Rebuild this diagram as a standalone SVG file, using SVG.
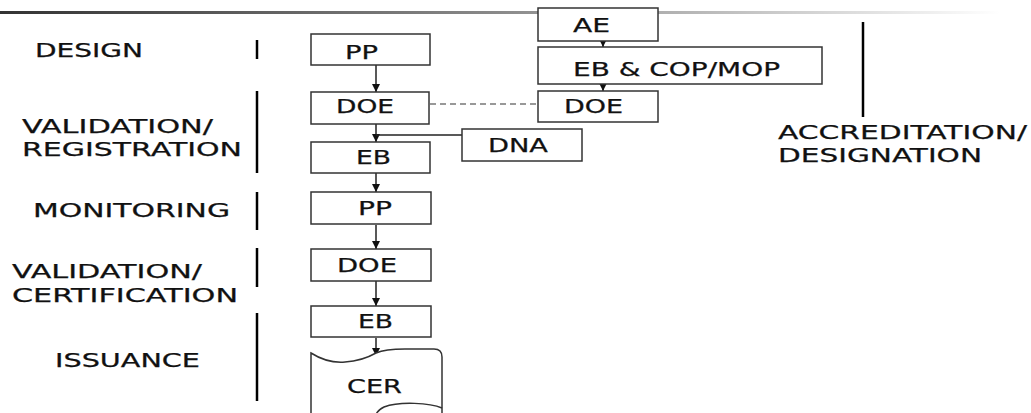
<svg xmlns="http://www.w3.org/2000/svg" width="1031" height="413" viewBox="0 0 1031 413">
  <defs>
    <linearGradient id="rule" x1="0" y1="0" x2="1" y2="0">
      <stop offset="0" stop-color="#333"/>
      <stop offset="0.5" stop-color="#8a8a8a"/>
      <stop offset="1" stop-color="#ffffff"/>
    </linearGradient>
    <marker id="arrow" viewBox="0 0 10 10" refX="10" refY="5" markerWidth="8" markerHeight="8" markerUnits="userSpaceOnUse" orient="auto">
      <path d="M0,0 L10,5 L0,10 Z" fill="#111"/>
    </marker>
    <style>
      .box { fill: #fff; stroke: #333; stroke-width: 1.5; }
      .t { font-family: "DejaVu Sans", Verdana, sans-serif; font-size: 19px; fill: #111; stroke: #111; stroke-width: 0.25; }
      .bar { stroke: #000; stroke-width: 2.5; }
      .link { stroke: #222; stroke-width: 1.5; fill: none; }
      .arr { stroke: #222; stroke-width: 1.5; fill: none; marker-end: url(#arrow); }
      .dash { stroke: #777; stroke-width: 1.3; stroke-dasharray: 6 4; fill: none; }
    </style>
  </defs>

  <rect width="1031" height="413" fill="#fff"/>

  <!-- header rule -->
  <rect x="0" y="11" width="1000" height="3" fill="url(#rule)"/>

  <!-- phase labels -->
  <g id="phases">
    <text class="t" x="35" y="57" textLength="108" lengthAdjust="spacingAndGlyphs">DESIGN</text>
    <text class="t" x="22" y="133" textLength="191" lengthAdjust="spacingAndGlyphs">VALIDATION/</text>
    <text class="t" x="22" y="156" textLength="220" lengthAdjust="spacingAndGlyphs">REGISTRATION</text>
    <text class="t" x="33" y="217" textLength="197" lengthAdjust="spacingAndGlyphs">MONITORING</text>
    <text class="t" x="12" y="278" textLength="190" lengthAdjust="spacingAndGlyphs">VALIDATION/</text>
    <text class="t" x="12" y="302" textLength="226" lengthAdjust="spacingAndGlyphs">CERTIFICATION</text>
    <text class="t" x="55" y="367" textLength="145" lengthAdjust="spacingAndGlyphs">ISSUANCE</text>
    <text class="t" x="778" y="139" textLength="249" lengthAdjust="spacingAndGlyphs">ACCREDITATION/</text>
    <text class="t" x="778" y="162" textLength="204" lengthAdjust="spacingAndGlyphs">DESIGNATION</text>
  </g>

  <!-- phase separators -->
  <g id="separators">
    <line class="bar" x1="257" y1="40" x2="257" y2="59"/>
    <line class="bar" x1="257" y1="91" x2="257" y2="173"/>
    <line class="bar" x1="257" y1="192" x2="257" y2="230"/>
    <line class="bar" x1="257" y1="248" x2="257" y2="287"/>
    <line class="bar" x1="257" y1="313" x2="257" y2="401"/>
    <line class="bar" x1="863" y1="22" x2="863" y2="117"/>
  </g>

  <!-- connectors -->
  <g id="connectors">
    <line class="arr" x1="376" y1="65" x2="376" y2="92"/>
    <line class="arr" x1="376" y1="124" x2="376" y2="142"/>
    <line class="link" x1="462" y1="135" x2="376" y2="135"/>
    <line class="arr" x1="376" y1="173" x2="376" y2="192"/>
    <line class="arr" x1="376" y1="225" x2="376" y2="249"/>
    <line class="arr" x1="376" y1="281" x2="376" y2="306"/>
    <line class="arr" x1="376" y1="338" x2="376" y2="356"/>
    <line class="arr" x1="603" y1="41" x2="603" y2="47"/>
    <line class="arr" x1="603" y1="84" x2="603" y2="91"/>
    <line class="dash" x1="430" y1="104" x2="538" y2="104"/>
  </g>

  <!-- process chain -->
  <g id="pp-design">
    <rect class="box" x="311" y="34" width="119" height="31"/>
    <text class="t" x="345" y="59" textLength="33" lengthAdjust="spacingAndGlyphs">PP</text>
  </g>
  <g id="doe-validation">
    <rect class="box" x="311" y="92" width="118" height="32"/>
    <text class="t" x="336" y="113" textLength="58" lengthAdjust="spacingAndGlyphs">DOE</text>
  </g>
  <g id="eb-registration">
    <rect class="box" x="311" y="142" width="119" height="31"/>
    <text class="t" x="356" y="164" textLength="35" lengthAdjust="spacingAndGlyphs">EB</text>
  </g>
  <g id="pp-monitoring">
    <rect class="box" x="311" y="192" width="120" height="32"/>
    <text class="t" x="358" y="215" textLength="34" lengthAdjust="spacingAndGlyphs">PP</text>
  </g>
  <g id="doe-certification">
    <rect class="box" x="311" y="249" width="120" height="32"/>
    <text class="t" x="337" y="272" textLength="60" lengthAdjust="spacingAndGlyphs">DOE</text>
  </g>
  <g id="eb-issuance">
    <rect class="box" x="311" y="306" width="120" height="31"/>
    <text class="t" x="358" y="328" textLength="35" lengthAdjust="spacingAndGlyphs">EB</text>
  </g>
  <g id="cer">
    <path class="box" d="M311,416 L311,353 C322,360 333,363 345,362 C360,361 369,357 376,353 C385,349 395,349 405,349 L434,349 Q442,349 442,357 L442,416"/>
    <path class="link" style="stroke:#333" d="M442,408 C430,403 400,401 384,407 C378,410 376,414 376,416"/>
    <text class="t" x="347" y="393" textLength="55" lengthAdjust="spacingAndGlyphs">CER</text>
  </g>

  <!-- accreditation chain -->
  <g id="ae">
    <rect class="box" x="538" y="8" width="120" height="33"/>
    <text class="t" x="573" y="32" textLength="37" lengthAdjust="spacingAndGlyphs">AE</text>
  </g>
  <g id="eb-cop-mop">
    <rect class="box" x="538" y="47" width="284" height="37"/>
    <text class="t" x="573" y="76" textLength="207" lengthAdjust="spacingAndGlyphs">EB &amp; COP/MOP</text>
  </g>
  <g id="doe-designated">
    <rect class="box" x="538" y="91" width="120" height="31"/>
    <text class="t" x="564" y="113" textLength="59" lengthAdjust="spacingAndGlyphs">DOE</text>
  </g>
  <g id="dna">
    <rect class="box" x="462" y="129" width="120" height="32"/>
    <text class="t" x="488" y="152" textLength="60" lengthAdjust="spacingAndGlyphs">DNA</text>
  </g>
</svg>
